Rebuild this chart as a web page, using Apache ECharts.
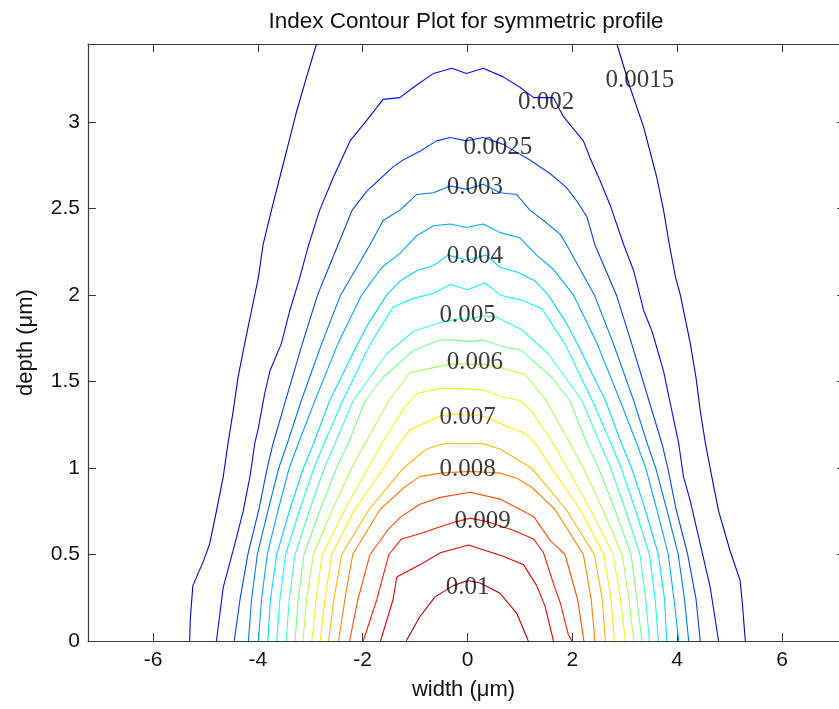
<!DOCTYPE html>
<html>
<head>
<meta charset="utf-8">
<script src="https://cdn.jsdelivr.net/npm/echarts@6/dist/echarts.min.js"></script>
<style>
  html, body { margin: 0; padding: 0; background: #ffffff; }
  #chart { width: 839px; height: 709px; }
</style>
</head>
<body>
<div id="chart"></div>
<script>
// Axis ranges and tick values (µm); the right edge of the box sits just past the canvas
const xRange = [-7.24, 7.087];
const yRange = [0, 3.45];
const xTicks = [-6, -4, -2, 0, 2, 4, 6];
const yTicks = [0, 0.5, 1, 1.5, 2, 2.5, 3];

// Contour levels of the index change
const levels = [0.0015, 0.002, 0.0025, 0.003, 0.0035, 0.004, 0.0045, 0.005, 0.0055,
                0.006, 0.0065, 0.007, 0.0075, 0.008, 0.0085, 0.009, 0.0095, 0.01];

// Contour polylines, [width, depth] pairs; a level may have several branches
const c0015 = [
  [[-2.88,3.45],[-3.07,3.26],[-3.26,3.06],[-3.42,2.87],[-3.58,2.68],[-3.74,2.49],[-3.90,2.29],[-3.99,2.10],[-4.12,1.91],[-4.25,1.72],[-4.38,1.52],[-4.47,1.33],[-4.57,1.14],[-4.66,0.95],[-4.79,0.75],[-4.92,0.56],[-5.04,0.46],[-5.24,0.32],[-5.29,0.12],[-5.30,0]],
  [[2.85,3.45],[3.10,3.20],[3.36,2.97],[3.61,2.68],[3.74,2.49],[3.85,2.29],[3.97,2.10],[4.06,2.00],[4.25,1.72],[4.36,1.52],[4.44,1.33],[4.54,1.14],[4.66,0.95],[4.79,0.75],[5.01,0.52],[5.20,0.35],[5.24,0.23],[5.30,0]]
];
const c002 = [
  [[-4.79,0],[-4.66,0.31],[-4.44,0.56],[-4.28,0.75],[-4.15,0.95],[-4.06,1.14],[-3.99,1.23],[-3.87,1.43],[-3.77,1.56],[-3.55,1.72],[-3.39,1.91],[-3.20,2.10],[-3.03,2.29],[-2.82,2.49],[-2.56,2.68],[-2.24,2.89],[-1.92,3.01],[-1.61,3.13],[-1.29,3.14],[-1.03,3.20],[-0.65,3.28],[-0.30,3.31],[-0.02,3.28],[0.30,3.31],[0.68,3.26],[1.00,3.20],[1.26,3.14],[1.64,3.14],[1.83,3.03],[2.21,2.89],[2.34,2.79],[2.53,2.66],[2.72,2.52],[2.98,2.29],[3.17,2.14],[3.36,1.91],[3.52,1.79],[3.74,1.56],[3.87,1.37],[4.03,1.14],[4.12,0.95],[4.25,0.81],[4.44,0.56],[4.63,0.31],[4.79,0]]
];
const c0025 = [
  [[-4.45,0],[-4.34,0.24],[-4.19,0.50],[-3.98,0.76],[-3.82,1.00],[-3.71,1.14],[-3.47,1.39],[-3.15,1.72],[-2.86,2.00],[-2.47,2.29],[-2.20,2.49],[-1.92,2.60],[-1.67,2.67],[-1.42,2.74],[-1.23,2.78],[-0.91,2.83],[-0.59,2.89],[-0.33,2.91],[-0.02,2.89],[0.30,2.91],[0.68,2.87],[1.19,2.78],[1.58,2.70],[1.89,2.62],[2.09,2.54],[2.28,2.45],[2.43,2.29],[2.84,2.00],[3.13,1.72],[3.46,1.39],[3.71,1.14],[3.82,1.00],[3.98,0.76],[4.20,0.50],[4.36,0.24],[4.44,0]]
];
const c003 = [
  [[-4.18,0],[-4.12,0.24],[-4.01,0.50],[-3.80,0.76],[-3.60,1.00],[-3.44,1.14],[-3.17,1.39],[-2.78,1.72],[-2.42,2.00],[-1.86,2.29],[-1.61,2.43],[-1.29,2.49],[-0.97,2.58],[-0.65,2.59],[-0.33,2.63],[-0.02,2.61],[0.30,2.64],[0.62,2.59],[0.94,2.58],[1.19,2.49],[1.45,2.43],[1.77,2.35],[1.89,2.29],[2.42,2.00],[2.78,1.72],[3.17,1.39],[3.43,1.14],[3.59,1.00],[3.80,0.76],[4.02,0.50],[4.14,0.24],[4.22,0]]
];
const c0035 = [
  [[-3.99,0],[-3.93,0.24],[-3.82,0.50],[-3.61,0.76],[-3.40,1.00],[-3.23,1.14],[-2.91,1.39],[-2.47,1.72],[-2.02,2.00],[-1.63,2.16],[-1.29,2.24],[-0.98,2.34],[-0.65,2.40],[-0.33,2.41],[-0.02,2.39],[0.30,2.41],[0.62,2.36],[1.00,2.33],[1.32,2.23],[1.63,2.15],[2.02,2.00],[2.47,1.72],[2.91,1.39],[3.23,1.14],[3.40,1.00],[3.61,0.76],[3.83,0.50],[3.94,0.24],[4.03,0]]
];
const c004 = [
  [[-3.81,0],[-3.76,0.24],[-3.64,0.50],[-3.39,0.76],[-3.13,1.00],[-2.94,1.14],[-2.63,1.39],[-2.09,1.72],[-1.88,1.84],[-1.54,2.00],[-1.29,2.08],[-0.97,2.14],[-0.65,2.17],[-0.37,2.23],[0.00,2.20],[0.35,2.23],[0.62,2.16],[0.97,2.13],[1.29,2.08],[1.54,2.00],[1.88,1.84],[2.09,1.72],[2.63,1.39],[2.94,1.14],[3.13,1.00],[3.39,0.76],[3.64,0.50],[3.76,0.24],[3.80,0]]
];
const c0045 = [
  [[-3.64,0],[-3.58,0.24],[-3.47,0.50],[-3.20,0.76],[-2.93,1.00],[-2.74,1.14],[-2.38,1.39],[-1.85,1.72],[-1.42,1.93],[-1.03,1.98],[-0.65,2.01],[-0.33,2.06],[0.00,2.03],[0.33,2.07],[0.62,2.00],[1.03,1.97],[1.42,1.92],[1.85,1.72],[2.38,1.39],[2.74,1.14],[2.93,1.00],[3.20,0.76],[3.47,0.50],[3.58,0.24],[3.64,0]]
];
const c005 = [
  [[-3.46,0],[-3.40,0.24],[-3.29,0.50],[-3.01,0.76],[-2.73,1.00],[-2.53,1.14],[-2.18,1.39],[-1.54,1.66],[-1.03,1.79],[-0.52,1.84],[-0.21,1.86],[0.05,1.86],[0.30,1.88],[0.56,1.87],[1.03,1.80],[1.54,1.66],[2.18,1.39],[2.53,1.14],[2.73,1.00],[3.01,0.76],[3.29,0.50],[3.40,0.24],[3.47,0]]
];
const c0055 = [
  [[-3.29,0],[-3.23,0.24],[-3.12,0.50],[-2.81,0.76],[-2.50,1.00],[-2.28,1.14],[-1.95,1.39],[-1.62,1.52],[-1.03,1.68],[-0.52,1.74],[-0.30,1.74],[0.05,1.73],[0.30,1.74],[0.68,1.70],[1.03,1.68],[1.62,1.52],[1.95,1.39],[2.28,1.14],[2.50,1.00],[2.81,0.76],[3.12,0.50],[3.23,0.24],[3.33,0]]
];
const c006 = [
  [[-3.14,0],[-3.07,0.24],[-2.94,0.50],[-2.58,0.76],[-2.21,1.00],[-1.96,1.14],[-1.50,1.39],[-1.10,1.55],[-0.65,1.58],[-0.33,1.60],[0.30,1.60],[0.62,1.58],[1.10,1.54],[1.50,1.39],[1.96,1.14],[2.21,1.00],[2.58,0.76],[2.95,0.50],[3.08,0.24],[3.17,0]]
];
const c0065 = [
  [[-2.97,0],[-2.89,0.24],[-2.77,0.50],[-2.34,0.76],[-1.90,1.00],[-1.64,1.14],[-1.20,1.35],[-0.97,1.43],[-0.52,1.46],[-0.21,1.46],[0.30,1.45],[0.68,1.41],[1.00,1.39],[1.22,1.33],[1.64,1.14],[1.90,1.00],[2.34,0.76],[2.78,0.50],[2.92,0.24],[3.01,0]]
];
const c007 = [
  [[-2.81,0],[-2.72,0.24],[-2.59,0.50],[-2.15,0.76],[-1.60,1.00],[-1.30,1.14],[-1.10,1.22],[-0.52,1.30],[-0.21,1.31],[0.30,1.30],[0.75,1.24],[1.10,1.20],[1.30,1.14],[1.60,1.00],[2.15,0.76],[2.60,0.50],[2.74,0.24],[2.80,0]]
];
const c0075 = [
  [[-2.65,0],[-2.55,0.24],[-2.40,0.50],[-1.88,0.76],[-1.22,1.00],[-0.78,1.11],[-0.46,1.14],[0.30,1.14],[0.62,1.11],[1.22,1.00],[1.88,0.76],[2.42,0.50],[2.57,0.24],[2.63,0]]
];
const c008 = [
  [[-2.46,0],[-2.34,0.24],[-2.19,0.50],[-1.67,0.76],[-1.20,0.89],[-0.91,0.95],[-0.52,0.97],[0.05,0.98],[0.62,0.97],[0.94,0.94],[1.22,0.89],[1.67,0.76],[2.21,0.50],[2.36,0.24],[2.43,0]]
];
const c0085 = [
  [[-2.25,0],[-2.09,0.24],[-1.86,0.50],[-1.50,0.65],[-1.26,0.72],[-0.91,0.79],[-0.52,0.83],[0.05,0.86],[0.62,0.82],[1.26,0.72],[1.58,0.58],[1.86,0.50],[2.10,0.24],[2.22,0]]
];
const c009 = [
  [[-1.99,0],[-1.73,0.24],[-1.50,0.50],[-1.26,0.59],[-0.91,0.62],[-0.52,0.66],[-0.21,0.69],[0.05,0.71],[0.37,0.69],[0.87,0.64],[1.26,0.59],[1.45,0.51],[1.64,0.33],[1.77,0.22],[1.92,0.04],[1.99,0]]
];
const c0095 = [
  [[-1.66,0],[-1.42,0.24],[-1.35,0.37],[-0.91,0.44],[-0.52,0.51],[0.02,0.555],[0.37,0.52],[0.68,0.49],[1.07,0.44],[1.32,0.32],[1.48,0.20],[1.64,0]]
];
const c010 = [
  [[-1.17,0],[-0.91,0.14],[-0.62,0.255],[-0.27,0.32],[0.00,0.35],[0.24,0.335],[0.62,0.276],[0.94,0.16],[1.16,0]]
];
const contours = [c0015, c002, c0025, c003, c0035, c004, c0045, c005, c0055,
                  c006, c0065, c007, c0075, c008, c0085, c009, c0095, c010];

// Inline contour labels: [width, depth, text]
const contourLabels = [
  [3.29, 3.24, '0.0015'],
  [1.50, 3.11, '0.002'],
  [0.58, 2.85, '0.0025'],
  [0.14, 2.62, '0.003'],
  [0.14, 2.22, '0.004'],
  [0.00, 1.88, '0.005'],
  [0.14, 1.61, '0.006'],
  [0.00, 1.29, '0.007'],
  [0.00, 0.99, '0.008'],
  [0.29, 0.69, '0.009'],
  [0.00, 0.31, '0.01']
];

// jet-style colours, one per level
const levelColors = [
  '#0000d9', '#000dff', '#0041ff', '#0075ff', '#00a9ff', '#00dcff',
  '#11ffee', '#45ffba', '#79ff86', '#acff53', '#e0ff1f', '#ffea00',
  '#ffb600', '#ff8300', '#ff4f00', '#ff1b00', '#e60000', '#b30000'
];

const sansFont = "'Liberation Sans', Arial, Helvetica, sans-serif";
const axisColor = '#3a3a3a';

const series = [];
contours.forEach(function (branches, i) {
  branches.forEach(function (branch) {
    series.push({
      type: 'line',
      name: String(levels[i]),
      data: branch,
      symbol: 'none',
      showSymbol: false,
      smooth: false,
      clip: true,
      silent: true,
      lineStyle: { width: 1.1, color: levelColors[i] },
      z: 2
    });
  });
});
series.push({
  type: 'scatter',
  data: contourLabels,
  symbolSize: 0,
  silent: true,
  z: 5,
  label: {
    show: true,
    position: [0, 0],
    align: 'center',
    verticalAlign: 'middle',
    formatter: function (p) { return p.value[2]; },
    fontFamily: "'Liberation Serif', 'Times New Roman', serif",
    fontSize: 25,
    color: '#0a0a0a'
  }
});

const tickStyle = { show: true, inside: true, length: 8, lineStyle: { color: axisColor, width: 1 } };
const lineStyleAxis = { show: true, onZero: false, lineStyle: { color: axisColor, width: 1.2 } };

const chart = echarts.init(document.getElementById('chart'), null, { renderer: 'canvas' });
chart.setOption({
  animation: false,
  backgroundColor: '#ffffff',
  title: {
    text: 'Index Contour Plot for symmetric profile',
    left: 461,
    top: 5,
    textAlign: 'center',
    textStyle: { fontFamily: sansFont, fontSize: 22.5, fontWeight: 'normal', color: '#111111' }
  },
  grid: { left: 88, top: 44, right: 0, height: 597, containLabel: false },
  xAxis: [
    {
      type: 'value', position: 'bottom', min: xRange[0], max: xRange[1],
      name: 'width (μm)', nameLocation: 'middle', nameGap: 38,
      nameTextStyle: { fontFamily: sansFont, fontSize: 22, color: '#111111' },
      axisLine: lineStyleAxis,
      axisTick: Object.assign({ customValues: xTicks }, tickStyle),
      axisLabel: { customValues: xTicks, fontFamily: sansFont, fontSize: 21, color: '#111111', margin: 9 },
      splitLine: { show: false }
    },
    {
      type: 'value', position: 'top', min: xRange[0], max: xRange[1],
      axisLine: lineStyleAxis,
      axisTick: Object.assign({ customValues: xTicks }, tickStyle),
      axisLabel: { show: false },
      splitLine: { show: false }
    }
  ],
  yAxis: [
    {
      type: 'value', position: 'left', min: yRange[0], max: yRange[1],
      name: 'depth (μm)', nameLocation: 'middle', nameGap: 51,
      nameTextStyle: { fontFamily: sansFont, fontSize: 22, color: '#111111' },
      axisLine: lineStyleAxis,
      axisTick: Object.assign({ customValues: yTicks }, tickStyle),
      axisLabel: { customValues: yTicks, fontFamily: sansFont, fontSize: 21, color: '#111111', margin: 8 },
      splitLine: { show: false }
    },
    {
      type: 'value', position: 'right', min: yRange[0], max: yRange[1],
      axisLine: { show: false, onZero: false },
      axisTick: { show: true, inside: true, length: 2, customValues: yTicks, lineStyle: { color: axisColor, width: 1 } },
      axisLabel: { show: false },
      splitLine: { show: false }
    }
  ],
  series: series
});
</script>
</body>
</html>
